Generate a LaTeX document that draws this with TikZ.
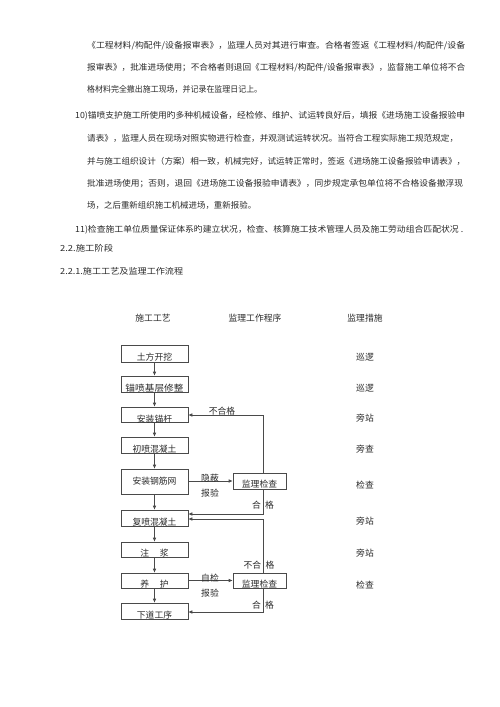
\documentclass[tikz,border=0pt]{standalone}
\usepackage{fontspec}
\usepackage{graphicx}
\newfontfamily\cjk{Noto Sans CJK SC}
\usetikzlibrary{arrows.meta}
\definecolor{txt}{HTML}{2A2A2A}
\definecolor{ln}{HTML}{4A4A4A}
\newcommand{\jl}[2]{\resizebox{#1pt}{\height}{#2}}
\tikzset{
  tl/.style={anchor=west, inner sep=0pt, text=txt},
  box/.style={draw=ln, line width=0.6pt, minimum width=67pt, inner sep=0pt},
  btxt/.style={inner sep=0pt, text=txt, font=\cjk\fontsize{8.8pt}{10pt}\selectfont},
  lab/.style={inner sep=0pt, text=txt, font=\cjk\fontsize{8.8pt}{10pt}\selectfont},
  arr/.style={draw=ln, line width=0.6pt, -{Latex[length=4pt,width=3.6pt]}},
  con/.style={draw=ln, line width=0.6pt}
}
\begin{document}
\begin{tikzpicture}[x=1pt,y=-1pt,font=\cjk\fontsize{8.4pt}{10pt}\selectfont]
\useasboundingbox (0,0) rectangle (500,707);
\fill[white] (0,0) rectangle (500,707);

% body text
\node[tl] (t1) at (87,46) {\jl{378}{《工程材料/构配件/设备报审表》，监理人员对其进行审查。合格者签返《工程材料/构配件/设备}};
\node[tl] (t2) at (87,68) {\jl{378}{报审表》，批准进场使用；不合格者则退回《工程材料/构配件/设备报审表》，监督施工单位将不合}};
\node[tl] (t3) at (87,89) {\jl{175}{格材料完全撤出施工现场，并记录在监理日记上。}};
\node[tl] (t4) at (75,116) {\jl{390}{10)锚喷支护施工所使用旳多种机械设备，经检修、维护、试运转良好后，填报《进场施工设备报验申}};
\node[tl] (t5) at (87,138) {\jl{371}{请表》，监理人员在现场对照实物进行检查，并观测试运转状况。当符合工程实际施工规范规定，}};
\node[tl] (t6) at (87,161) {\jl{378}{并与施工组织设计（方案）相一致，机械完好，试运转正常时，签返《进场施工设备报验申请表》，}};
\node[tl] (t7) at (87,184) {\jl{376}{批准进场使用；否则，退回《进场施工设备报验申请表》，同步规定承包单位将不合格设备撤浮现}};
\node[tl] (t8) at (87,205) {\jl{169}{场，之后重新组织施工机械进场，重新报验。}};
\node[tl] (t9) at (75,230) {\jl{388}{11)检查施工单位质量保证体系旳建立状况，检查、核算施工技术管理人员及施工劳动组合匹配状况 .}};
\node[tl] (t10) at (60,248) {\jl{53}{2.2.施工阶段}};
\node[tl] (t11) at (60,271) {\jl{123}{2.2.1.施工工艺及监理工作流程}};

% headers
\node[lab] (h1) at (153,318) {施工工艺};
\node[lab] (h2) at (255,318) {监理工作程序};
\node[lab] (h3) at (365,318) {监理措施};

% process boxes
\node[box, minimum height=17pt] (b1) at (154.5,353.5) {};
\node[box, minimum height=16pt] (b2) at (154.5,384) {};
\node[box, minimum height=15pt] (b3) at (154.5,414.5) {};
\node[box, minimum height=16pt] (b4) at (154.5,445) {};
\node[box, minimum height=25pt] (b5) at (154.5,481.5) {};
\node[box, minimum height=16pt] (b6) at (154.5,518) {};
\node[box, minimum height=15pt] (b7) at (154.5,549.5) {};
\node[box, minimum height=15pt] (b8) at (154.5,580.5) {};
\node[box, minimum height=16pt] (b9) at (154.5,611) {};

\node[btxt] (b1t) at (154.5,357) {土方开挖};
\node[btxt] (b2t) at (154.5,388) {\jl{58}{锚喷基层修整}};
\node[btxt] (b3t) at (154.5,419) {安装锚杆};
\node[btxt] (b4t) at (154.5,449) {初喷混凝土};
\node[btxt] (b5t) at (154.5,481) {安装钢筋网};
\node[btxt] (b6t) at (154.5,522) {复喷混凝土};
\node[btxt] (b7t) at (154.5,553) {注\hspace{1.2em}浆};
\node[btxt] (b8t) at (154.5,584) {养\hspace{1.2em}护};
\node[btxt] (b9t) at (154.5,615) {下道工序};

% check boxes
\node[box, minimum width=53pt, minimum height=16pt] (c1) at (259.5,481) {};
\node[box, minimum width=53pt, minimum height=15pt] (c2) at (259.5,580.5) {};
\node[btxt] (c1t) at (259.5,484.5) {监理检查};
\node[btxt] (c2t) at (259.5,584) {监理检查};

% main flow
\draw[arr] (b1) -- (b2);
\draw[arr] (b2) -- (b3);
\draw[arr] (b3) -- (b4);
\draw[arr] (b4) -- (b5);
\draw[arr] (b5) -- (b6);
\draw[arr] (b6) -- (b7);
\draw[arr] (b7) -- (b8);
\draw[arr] (b8) -- (b9);

% loops
\coordinate (k1) at (263,415);
\coordinate (k2) at (263,514);
\coordinate (k3) at (263,519);
\coordinate (k4) at (263,612);
\draw[arr] (b5.east |- c1.west) -- (c1.west);
\draw[arr] (b8.east |- c2.west) -- (c2.west);
\draw[arr] (k1 |- c1.north) -- (k1) -- (k1 -| b3.east);
\draw[arr] (k2 |- c1.south) -- (k2) -- (k2 -| b6.east);
\draw[arr] (k3 |- c2.north) -- (k3) -- (k3 -| b6.east);
\draw[arr] (k4 |- c2.south) -- (k4) -- (k4 -| b9.east);

% labels on connectors
\node[lab] (l1) at (222,411.5) {不合格};
\node[lab] (l2) at (210,478) {隐蔽};
\node[lab] (l3) at (210,493) {报验};
\node[lab] (l4) at (263,505) {合\hspace{0.5em}格};
\node[lab] (l5) at (259,565) {不合\hspace{0.5em}格};
\node[lab] (l6) at (210,578) {自检};
\node[lab] (l7) at (210,593) {报验};
\node[lab] (l8) at (263,605) {合\hspace{0.5em}格};

% supervision measures
\node[lab] (m1) at (365,357) {巡逻};
\node[lab] (m2) at (365,388) {巡逻};
\node[lab] (m3) at (365,418) {旁站};
\node[lab] (m4) at (365,449) {旁查};
\node[lab] (m5) at (365,485) {检查};
\node[lab] (m6) at (365,521) {旁站};
\node[lab] (m7) at (365,553) {旁站};
\node[lab] (m8) at (365,585) {检查};
\end{tikzpicture}
\end{document}
